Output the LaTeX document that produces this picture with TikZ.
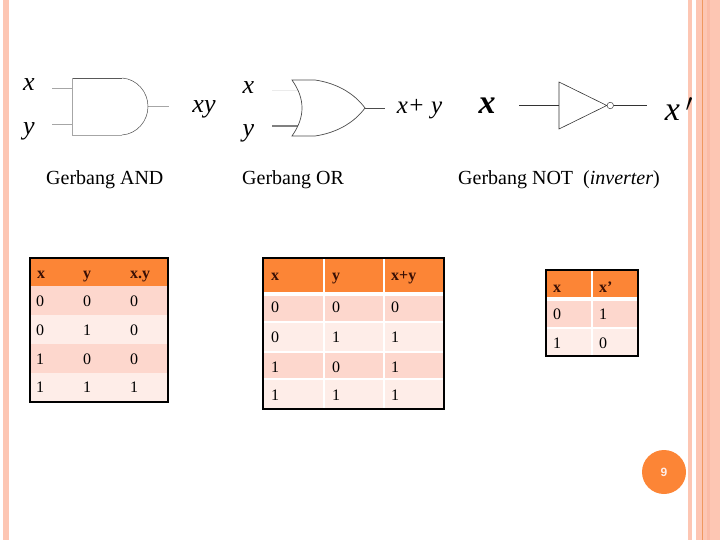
\documentclass[tikz,border=0pt]{standalone}
\usepackage{fontspec}
\setmainfont{Liberation Serif}
\setsansfont{Liberation Sans}
\definecolor{peach}{HTML}{FDC6B3}
\definecolor{peachdark}{HTML}{FBBBA6}
\definecolor{barline}{HTML}{F0985F}
\definecolor{headfill}{HTML}{FC8536}
\definecolor{rowdark}{HTML}{FDD7CD}
\definecolor{rowlight}{HTML}{FEEDE8}
\definecolor{headtext}{HTML}{3A1005}
\tikzset{
    cell/.style={anchor=base west,inner sep=0pt,font=\fontsize{16}{18}\selectfont},
    headcell/.style={cell,text=headtext,font=\fontsize{16}{18}\selectfont\bfseries},
    caption/.style={anchor=base west,inner sep=0pt,font=\fontsize{20}{24}\selectfont},
    varlabel/.style={inner sep=0pt,font=\fontsize{26}{30}\selectfont\itshape},
    bigvar/.style={inner sep=0pt,font=\fontsize{34}{38}\selectfont\itshape},
    gateline/.style={draw=black!70,line width=0.7pt},
    wire/.style={draw=black!35,line width=0.8pt},
    tableframe/.style={draw=black,line width=1.8pt},
    gap/.style={draw=white,line width=1.5pt},
    headgap/.style={draw=white,line width=3.5pt}
}
\begin{document}
\begin{tikzpicture}[x=1pt,y=-1pt]
    \useasboundingbox (0,0) rectangle (720,540);
    % side bars
    \fill[peach] (3,0) rectangle (9,540);
    \fill[peach] (688,0) rectangle (692,540);
    \fill[peach] (696,0) rectangle (720,540);
    \fill[peachdark] (707,0) rectangle (710,540);
    \fill[barline] (702,0) rectangle (703,540);

    % AND gate
    \node[varlabel] (andx) at (29,85) {x};
    \node[varlabel] (andy) at (29,131) {y};
    \node[varlabel] (andxy) at (204,109) {xy};
    \coordinate (andin1) at (52,88);
    \coordinate (andgate1) at (72.5,88);
    \coordinate (andin2) at (52,124);
    \coordinate (andgate2) at (72.5,124);
    \coordinate (andtip) at (148,106.5);
    \coordinate (andout) at (169,106.5);
    \draw[wire] (andin1) -- (andgate1);
    \draw[wire] (andin2) -- (andgate2);
    \draw[wire] (andtip) -- (andout);
    \draw[black!65,line width=0.9pt] (72.5,78) -- (122,78);
    \draw[black!70,line width=0.5pt] (122,78) .. controls (137,79) and (148,92) .. (andtip)
        .. controls (148,121) and (137,134) .. (122,135);
    \draw[black!35,line width=0.7pt] (122,135) -- (72.5,135) -- (72.5,78);
    \node[caption] (andcap) at (46,185) {Gerbang AND};

    % OR gate
    \node[varlabel] (orx) at (248.5,88) {x};
    \node[varlabel] (ory) at (248.5,133) {y};
    \node[varlabel,font=\fontsize{25}{30}\selectfont\itshape] (orxy) at (419.5,109) {x+ y};
    \coordinate (orin1) at (272,91);
    \coordinate (orgate1) at (299,91);
    \coordinate (orin2) at (272,126);
    \coordinate (orgate2) at (298,126);
    \coordinate (ortip) at (365,108);
    \coordinate (orout) at (385,108);
    \draw[black!8,line width=1pt] (orin1) -- (orgate1);
    \draw[black!50,line width=1.4pt] (orin2) -- (orgate2);
    \draw[gateline] (ortip) -- (orout);
    \draw[gateline] (292,80) .. controls (299,90) and (302,99) .. (302,108)
        .. controls (302,117) and (299,126) .. (292,136)
        -- (315,136) .. controls (336,133) and (354,123) .. (ortip)
        .. controls (354,93) and (336,83) .. (315,80) -- cycle;
    \node[caption] (orcap) at (242,185) {Gerbang OR};

    % NOT gate
    \node[bigvar,font=\fontsize{34}{38}\selectfont\itshape\bfseries] (notx) at (487,106) {x};
    \node[bigvar,anchor=center] (notxp) at (679,109) {x\,$'$};
    \node[circle,draw=black!75,fill=white,line width=0.5pt,minimum size=6.5pt,inner sep=0pt] (notbub) at (610.3,105.5) {};
    \coordinate (notin) at (519,105.5);
    \coordinate (notback) at (559,105.5);
    \coordinate (notout) at (647,105.5);
    \draw[black!80,line width=0.6pt] (notin) -- (notback);
    \draw[black!80,line width=0.6pt] (notbub) -- (notout);
    \draw[black!80,line width=0.6pt] (559,82) -- (notbub.west) -- (559,129) -- cycle;
    \node[caption] (notcap) at (458,185) {Gerbang NOT\ \ (\textit{inverter})};

    % AND table
    \fill[headfill] (30,258) rectangle (168,286);
    \fill[rowdark] (30,286) rectangle (168,315);
    \fill[rowlight] (30,315) rectangle (168,344);
    \fill[rowdark] (30,344) rectangle (168,373);
    \fill[rowlight] (30,373) rectangle (168,402);
    \draw[tableframe] (30,258) rectangle (168,402);
    \node[headcell] (at1) at (37,278) {x};
    \node[headcell] (at2) at (83,278) {y};
    \node[headcell] (at3) at (130,278) {x.y};
    \node[cell] (a11) at (36,306) {0};
    \node[cell] (a12) at (83,306) {0};
    \node[cell] (a13) at (130,306) {0};
    \node[cell] (a21) at (36,335) {0};
    \node[cell] (a22) at (83,335) {1};
    \node[cell] (a23) at (130,335) {0};
    \node[cell] (a31) at (36,364) {1};
    \node[cell] (a32) at (83,364) {0};
    \node[cell] (a33) at (130,364) {0};
    \node[cell] (a41) at (36,392) {1};
    \node[cell] (a42) at (83,392) {1};
    \node[cell] (a43) at (130,392) {1};

    % OR table
    \fill[headfill] (263,258) rectangle (444,294);
    \fill[rowdark] (263,294) rectangle (444,322);
    \fill[rowlight] (263,322) rectangle (444,352);
    \fill[rowdark] (263,352) rectangle (444,379);
    \fill[rowlight] (263,379) rectangle (444,409);
    \draw[headgap] (263,294) -- (444,294);
    \draw[gap] (263,322) -- (444,322);
    \draw[gap] (263,352) -- (444,352);
    \draw[gap] (263,379) -- (444,379);
    \draw[gap] (324,258) -- (324,409);
    \draw[gap] (384,258) -- (384,409);
    \draw[tableframe] (263,258) rectangle (444,409);
    \node[headcell] (ot1) at (271,280) {x};
    \node[headcell] (ot2) at (332,280) {y};
    \node[headcell] (ot3) at (391,280) {x+y};
    \node[cell] (o11) at (271,312) {0};
    \node[cell] (o12) at (332,312) {0};
    \node[cell] (o13) at (391,312) {0};
    \node[cell] (o21) at (271,342) {0};
    \node[cell] (o22) at (332,342) {1};
    \node[cell] (o23) at (391,342) {1};
    \node[cell] (o31) at (271,372) {1};
    \node[cell] (o32) at (332,372) {0};
    \node[cell] (o33) at (391,372) {1};
    \node[cell] (o41) at (271,400) {1};
    \node[cell] (o42) at (332,400) {1};
    \node[cell] (o43) at (391,400) {1};

    % NOT table
    \fill[headfill] (546,270) rectangle (638,299);
    \fill[rowdark] (546,299) rectangle (638,328);
    \fill[rowlight] (546,328) rectangle (638,356);
    \draw[headgap] (546,299) -- (638,299);
    \draw[gap] (546,328) -- (638,328);
    \draw[gap] (592,270) -- (592,356);
    \draw[tableframe] (546,270) rectangle (638,356);
    \node[headcell] (nt1) at (553,292) {x};
    \node[headcell] (nt2) at (599,292) {x’};
    \node[cell] (n11) at (553,319) {0};
    \node[cell] (n12) at (599,319) {1};
    \node[cell] (n21) at (553,348) {1};
    \node[cell] (n22) at (599,348) {0};

    % page number
    \node[circle,fill=headfill,minimum size=44pt,inner sep=0pt,text=rowlight,font=\fontsize{12}{14}\sffamily\bfseries] (pagenum) at (664,472) {9};
\end{tikzpicture}
\end{document}
